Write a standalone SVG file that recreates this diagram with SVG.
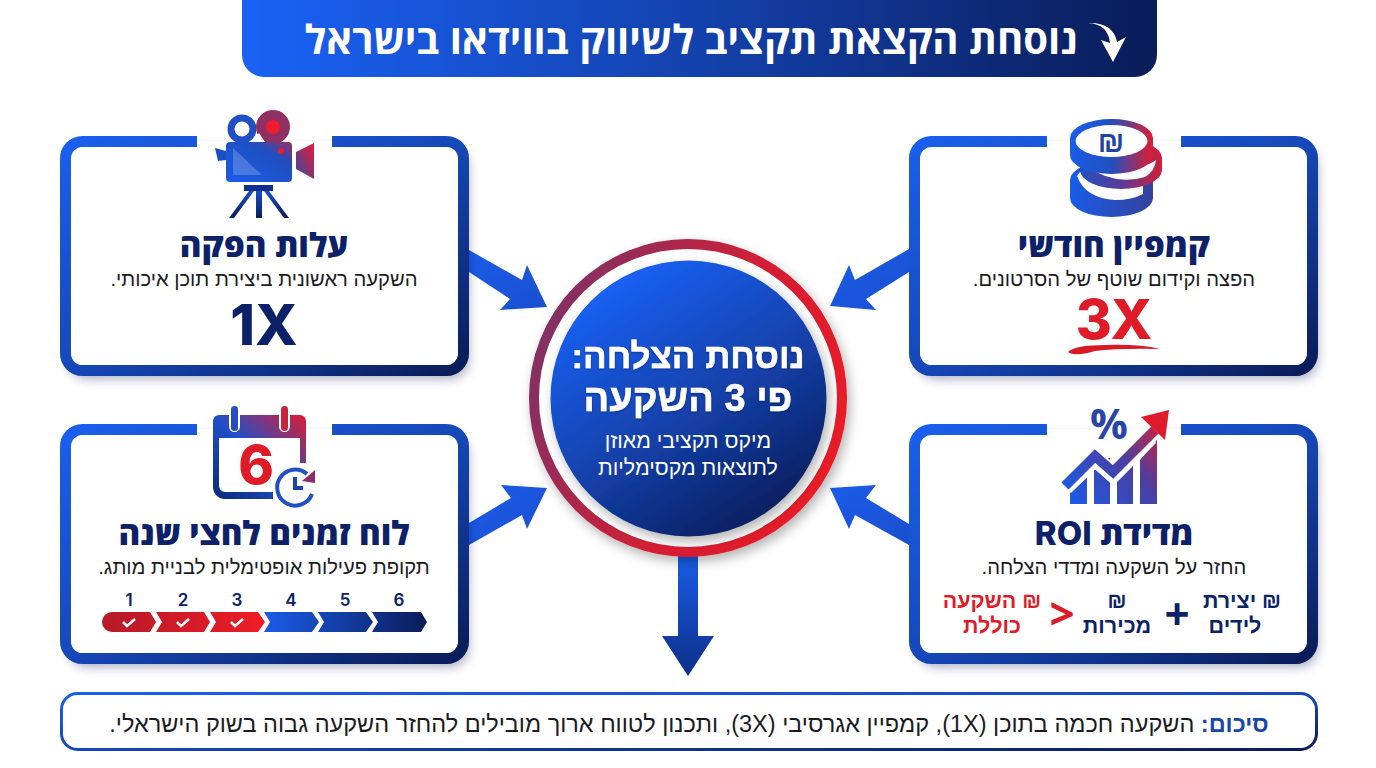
<svg xmlns="http://www.w3.org/2000/svg" width="1376" height="768" viewBox="0 0 1376 768">
<style>
text{direction:rtl;text-anchor:middle;font-family:"Open Sans","Liberation Sans","DejaVu Sans",sans-serif}
.t{font-size:33px;font-weight:800;fill:#0c2168}
.s{font-size:20.200px;font-weight:400;fill:#1b1b1f;font-family:"Liberation Sans","DejaVu Sans",sans-serif}
.f{font-size:21.500px;font-weight:700;fill:#0c2168;font-family:"Liberation Sans","DejaVu Sans",sans-serif}
.r{fill:#e01b28}
.x{font-family:Inter,"Liberation Sans",sans-serif;font-weight:800;direction:ltr}
.n{font-size:17px;font-weight:600;fill:#0c2168;direction:ltr;font-family:Inter,"Liberation Sans",sans-serif}
.b{fill:none;stroke:url(#bd);stroke-width:11}
.a{fill:url(#ar)}
.l{font-family:"Liberation Sans","DejaVu Sans",sans-serif}
.h{font-family:"Liberation Sans","DejaVu Sans",sans-serif;font-weight:700;stroke:#fff;stroke-width:.5px}
</style>
<defs>
<linearGradient id="bd" x1="0" y1="0" x2="1" y2="1"><stop offset="0" stop-color="#1a5fec"/><stop offset=".5" stop-color="#1648b8"/><stop offset="1" stop-color="#0a1c58"/></linearGradient>
<linearGradient id="hd" x1="0" y1="0" x2="1" y2="0"><stop offset="0" stop-color="#1a62f6"/><stop offset=".45" stop-color="#1445b4"/><stop offset="1" stop-color="#0a1c58"/></linearGradient>
<linearGradient id="ar" x1="0" y1="0" x2="1" y2="1"><stop offset="0" stop-color="#1a5ce8"/><stop offset="1" stop-color="#1a4fcf"/></linearGradient>
<linearGradient id="dn" x1="0" y1="0" x2="0" y2="1"><stop offset="0" stop-color="#1a5ce8"/><stop offset="1" stop-color="#0e2f88"/></linearGradient>
<linearGradient id="ctr" x1="0.2" y1="0.1" x2="0.75" y2="0.95"><stop offset="0" stop-color="#1a60f2"/><stop offset=".55" stop-color="#1340a8"/><stop offset="1" stop-color="#0a1f60"/></linearGradient>
<linearGradient id="ring" x1="0" y1="0.2" x2="1" y2="0.6"><stop offset="0" stop-color="#7a3268"/><stop offset=".6" stop-color="#d41f34"/><stop offset="1" stop-color="#e81c28"/></linearGradient>
<linearGradient id="ic" x1="0" y1="1" x2="1" y2="0"><stop offset="0" stop-color="#1a5ce8"/><stop offset=".7" stop-color="#1f4fc0"/><stop offset="1" stop-color="#a02c5c"/></linearGradient>
<linearGradient id="lens" x1="1" y1="0" x2="0" y2="1"><stop offset="0" stop-color="#e01c30"/><stop offset="1" stop-color="#3a48a8"/></linearGradient>
<linearGradient id="coin" x1="0" y1="0" x2="1" y2="0"><stop offset="0" stop-color="#1a5ce8"/><stop offset=".5" stop-color="#2150c0"/><stop offset="1" stop-color="#e01c30"/></linearGradient>
<linearGradient id="coin2" x1="0" y1="0" x2="1" y2="0"><stop offset="0" stop-color="#2150c0"/><stop offset=".5" stop-color="#5a3c98"/><stop offset="1" stop-color="#d02038"/></linearGradient>
<linearGradient id="coin3" x1="0" y1="0" x2="1" y2="0"><stop offset="0" stop-color="#1a5ce8"/><stop offset="1" stop-color="#34429c"/></linearGradient>
<linearGradient id="leg" x1="0" y1="0" x2="0" y2="1"><stop offset="0" stop-color="#1a4fc8"/><stop offset="1" stop-color="#0a1c58"/></linearGradient>
<linearGradient id="redb" gradientUnits="userSpaceOnUse" x1="102" y1="0" x2="265" y2="0"><stop offset="0" stop-color="#b51a28"/><stop offset="1" stop-color="#ee1c26"/></linearGradient>
<linearGradient id="blub" gradientUnits="userSpaceOnUse" x1="264" y1="0" x2="427" y2="0"><stop offset="0" stop-color="#1a5ce8"/><stop offset="1" stop-color="#0a1c58"/></linearGradient>
<linearGradient id="cal" x1="0" y1="1" x2="1" y2="0"><stop offset="0" stop-color="#0c2a7a"/><stop offset=".5" stop-color="#1f50c8"/><stop offset="1" stop-color="#e01c30"/></linearGradient>
<linearGradient id="chart" gradientUnits="userSpaceOnUse" x1="1065" y1="500" x2="1165" y2="415"><stop offset="0" stop-color="#1a5ce8"/><stop offset=".55" stop-color="#4a3fa0"/><stop offset="1" stop-color="#e81c2c"/></linearGradient>
<filter id="sh" x="-10%" y="-10%" width="125%" height="125%"><feDropShadow dx="4" dy="7" stdDeviation="6" flood-color="#0a1c58" flood-opacity=".42"/></filter>
<filter id="sc" x="-15%" y="-15%" width="130%" height="130%"><feDropShadow dx="3" dy="5" stdDeviation="6" flood-color="#000" flood-opacity=".3"/></filter>
<filter id="ts" x="-5%" y="-15%" width="110%" height="130%"><feDropShadow dx="0" dy="1" stdDeviation="1" flood-color="#000" flood-opacity=".35"/></filter>
</defs>
<rect width="1376" height="768" fill="#fff"/>

<g id="connectors">
<polygon class="a" points="469,250 522,280 527,265 547,307 500,310 510,299 469,272"/>
<polygon class="a" points="909,249 855,280 849,265 830,306 876,310 866,299 909,272"/>
<polygon class="a" points="469,523 511,498 501,485 547,488 527,529 522,515 469,545"/>
<polygon class="a" points="909,524 866,498 876,485 830,488 849,529 855,515 909,545"/>
<polygon fill="url(#dn)" points="678,555 698,555 698,636 714,636 688,676 662,636 678,636"/>
</g>

<g id="header">
<rect x="242" y="-30" width="915" height="107" rx="22" fill="url(#hd)"/>
<text x="691" y="54" font-size="40" font-weight="700" fill="#fff">נוסחת הקצאת תקציב לשיווק בווידאו בישראל</text>
<path d="M1088,23 Q1108,24 1110,43 L1101,40 L1113,62 L1126,37 L1117,42 Q1113,22 1088,23 Z" fill="#fff"/>
</g>

<g id="node-campaign">
<rect x="914.500" y="141.500" width="398" height="229" rx="17" fill="#fff" filter="url(#sh)"/>
<path class="b" d="M1047,141.500 H932 A17,17 0 0 0 914.500,159 V353 A17,17 0 0 0 932,370.500 H1295 A17,17 0 0 0 1312.500,353 V159 A17,17 0 0 0 1295,141.500 H1181"/>
<path d="M1070,180 A41.500,19 0 0 1 1153,180 V198 A41.500,19 0 0 1 1070,198 Z" fill="url(#coin3)"/>
<path d="M1077,176 Q1085,198 1115,200 Q1132,200 1143,194 L1143,182 L1080,172 Z" fill="#fff"/>
<path d="M1080,158 A41,19 0 0 1 1162,158 V170 A41,19 0 0 1 1080,170 Z" fill="url(#coin2)"/>
<path d="M1086,166 Q1115,186 1145,177 Q1155,171 1156,160 Q1150,165 1140,166 L1086,160 Z" fill="#fff"/>
<path d="M1070,138 A41.500,19 0 0 1 1153,138 V155 A41.500,19 0 0 1 1070,155 Z" fill="url(#coin)"/>
<ellipse cx="1111.500" cy="141" rx="36" ry="16" fill="#fff"/>
<text x="1111" y="152" font-size="30" font-weight="700" fill="#1f45a8" class="l">₪</text>
<text class="t" x="1114" y="257">קמפיין חודשי</text>
<text class="s" x="1114" y="286">הפצה וקידום שוטף של הסרטונים.</text>
<text x="1114" y="339" font-size="55" class="x r">3X</text>
<path d="M1068,352 Q1075,345 1105,345 Q1140,344 1160,349 Q1120,348 1095,351 Q1075,357 1068,352 Z" fill="#d81a26"/>
</g>

<g id="node-production">
<rect x="65.500" y="141.500" width="398" height="229" rx="17" fill="#fff" filter="url(#sh)"/>
<path class="b" d="M197,141.500 H83 A17,17 0 0 0 65.500,159 V353 A17,17 0 0 0 83,370.500 H446 A17,17 0 0 0 463.500,353 V159 A17,17 0 0 0 446,141.500 H332"/>
<circle cx="242" cy="129" r="11" fill="#fff" stroke="#1f50c8" stroke-width="7"/>
<circle cx="273" cy="127" r="17" fill="#8f2f62"/>
<circle cx="273" cy="127" r="7" fill="#ee1c2c"/>
<polygon points="253,142 259,133 265,142" fill="#fff"/>
<rect x="226" y="142" width="66" height="40" rx="4" fill="url(#ic)"/>
<polygon points="233,148 233,175 262,175" fill="#fff" fill-opacity=".2"/>
<circle cx="281" cy="151" r="3" fill="#e81c2c"/>
<polygon points="296,152 314,143 314,179 296,169" fill="url(#lens)"/>
<polygon points="215,148 226,151 226,160 218,161" fill="#1a4fc8"/>
<rect x="244" y="185" width="29" height="6" fill="#0f3090"/>
<polygon points="256,191 262,191 262,218 256,218" fill="url(#leg)"/>
<polygon points="249,191 254,191 234,218 229,218" fill="url(#leg)"/>
<polygon points="264,191 269,191 289,218 284,218" fill="url(#leg)"/>
<text class="t" x="264" y="257">עלות הפקה</text>
<text class="s" x="264" y="286">השקעה ראשונית ביצירת תוכן איכותי.</text>
<text x="264" y="345" font-size="56" class="x" fill="#0c2168">1X</text>
</g>

<g id="node-roi">
<rect x="914.500" y="429.500" width="398" height="229" rx="17" fill="#fff" filter="url(#sh)"/>
<path class="b" d="M1047,429.500 H932 A17,17 0 0 0 914.500,447 V641 A17,17 0 0 0 932,658.500 H1295 A17,17 0 0 0 1312.500,641 V447 A17,17 0 0 0 1295,429.500 H1181"/>
<g fill="url(#chart)">
<rect x="1070" y="478" width="17" height="26"/>
<rect x="1094" y="458" width="16" height="46"/>
<rect x="1117" y="458" width="16" height="46"/>
<polygon points="1140,460 1157,440 1157,504 1140,504"/>
</g>
<polyline points="1065,487 1095,458 1113,474 1150,437" fill="none" stroke="#fff" stroke-width="17"/>
<polyline points="1065,486 1095,456 1113,472 1155,430" fill="none" stroke="url(#chart)" stroke-width="10"/>
<polygon points="1169,410 1141,417 1165,440" fill="#e01c2c"/>
<text x="1109" y="439" font-size="42" font-weight="700" fill="#2a45a8" style="direction:ltr">%</text>
<text class="t" x="1114" y="545">מדידת <tspan style="font-family:Inter,sans-serif">ROI</tspan></text>
<text class="s" x="1114" y="574">החזר על השקעה ומדדי הצלחה.</text>
<text class="f" x="1242" y="608">₪ יצירת</text>
<text class="f" x="1235" y="633">לידים</text>
<text class="f" x="1117" y="608">₪</text>
<text class="f" x="1117" y="633">מכירות</text>
<text x="1177" y="630" font-size="44" font-weight="700" fill="#0c2168" style="direction:ltr">+</text>
<text x="1062" y="630" font-size="44" font-weight="700" class="r" style="direction:ltr">&gt;</text>
<text class="f" x="992" y="608" style="fill:#e01b28">₪ השקעה</text>
<text class="f" x="992" y="633" style="fill:#e01b28">כוללת</text>
</g>

<g id="node-schedule">
<rect x="65.500" y="429.500" width="398" height="229" rx="17" fill="#fff" filter="url(#sh)"/>
<path class="b" d="M197,429.500 H83 A17,17 0 0 0 65.500,447 V641 A17,17 0 0 0 83,658.500 H446 A17,17 0 0 0 463.500,641 V447 A17,17 0 0 0 446,429.500 H332"/>
<path d="M213,421 A6,6 0 0 1 219,415 H300 A6,6 0 0 1 306,421 V463 H300 V438 H219 V486 A6,6 0 0 0 225,492 H273 V499 H225 A12,12 0 0 1 213,487 Z" fill="url(#cal)"/>
<rect x="229" y="404" width="11" height="28" rx="5.500" fill="#fff"/>
<rect x="279" y="404" width="11" height="28" rx="5.500" fill="#fff"/>
<rect x="231" y="406" width="7" height="25" rx="3.500" fill="#2a4cc0"/>
<rect x="281" y="406" width="7" height="25" rx="3.500" fill="#c8243c"/>
<text x="256" y="484" font-size="54" class="x r">6</text>
<path d="M312,494 A18,18 0 1 1 307,474" fill="none" stroke="#2350c4" stroke-width="4"/>
<path d="M295,477 V488 H303" fill="none" stroke="#1a44b0" stroke-width="4"/>
<polygon points="315,470 315,483 302,481" fill="#8a3068"/>
<text class="t" x="264" y="545">לוח זמנים לחצי שנה</text>
<text class="s" x="264" y="574">תקופת פעילות אופטימלית לבניית מותג.</text>
<text class="n" x="129" y="606">1</text><text class="n" x="183" y="606">2</text><text class="n" x="237" y="606">3</text><text class="n" x="291" y="606">4</text><text class="n" x="345" y="606">5</text><text class="n" x="399" y="606">6</text>
<g fill="url(#redb)">
<path d="M112,612 H150 L156,622 L150,632 H112 A10,10 0 0 1 112,612 Z"/>
<polygon points="156,612 204,612 210,622 204,632 156,632 162,622"/>
<polygon points="210,612 258,612 265,622 258,632 210,632 216,622"/>
</g>
<g fill="url(#blub)">
<polygon points="264,612 312,612 319,622 312,632 264,632 270,622"/>
<polygon points="318,612 366,612 373,622 366,632 318,632 324,622"/>
<polygon points="372,612 421,612 427,622 421,632 372,632 378,622"/>
</g>
<g fill="none" stroke="#fff" stroke-width="2.500">
<polyline points="123,622 127,626 135,619"/>
<polyline points="177,622 181,626 189,619"/>
<polyline points="231,622 235,626 243,619"/>
</g>
</g>

<g id="node-center">
<circle cx="688" cy="398" r="154" fill="#fff" stroke="url(#ring)" stroke-width="10" filter="url(#sc)"/>
<circle cx="688.500" cy="398.500" r="138" fill="url(#ctr)" filter="url(#sc)"/>
<g fill="#fff">
<text x="688" y="368" font-size="35" class="h" filter="url(#ts)">נוסחת הצלחה:</text>
<text x="688" y="411" font-size="38" class="h" filter="url(#ts)">פי 3 השקעה</text>
<text x="688" y="448" font-size="21.300" class="l">מיקס תקציבי מאוזן</text>
<text x="688" y="475" font-size="21.300" class="l">לתוצאות מקסימליות</text>
</g>
</g>

<g id="node-summary">
<rect x="61.500" y="693.500" width="1255" height="56" rx="16" fill="#fff" stroke="url(#bd)" stroke-width="3"/>
<text x="689" y="732" font-size="23.500" fill="#1b1b1f" class="l"><tspan font-weight="700" fill="#1a45a8">סיכום:</tspan> השקעה חכמה בתוכן (1X), קמפיין אגרסיבי (3X), ותכנון לטווח ארוך מובילים להחזר השקעה גבוה בשוק הישראלי.</text>
</g>
</svg>
